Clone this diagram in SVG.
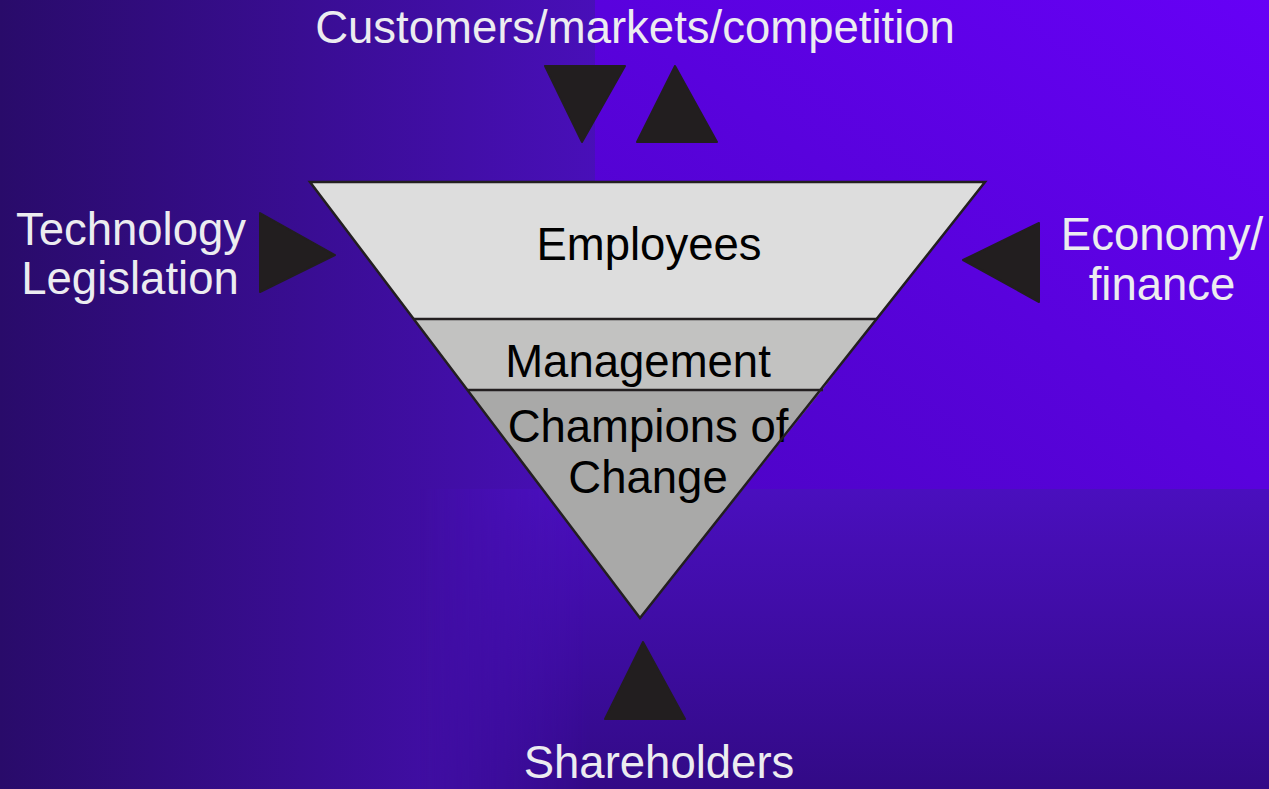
<svg xmlns="http://www.w3.org/2000/svg" width="1269" height="789" viewBox="0 0 1269 789">
<defs>
<linearGradient id="bgL" gradientUnits="userSpaceOnUse" x1="0" y1="0" x2="620" y2="0">
<stop offset="0" stop-color="#290b6a"/>
<stop offset="1" stop-color="#4a0fbc"/>
</linearGradient>
<linearGradient id="bgTR" x1="0" y1="1" x2="1" y2="0">
<stop offset="0" stop-color="#4c04c4"/>
<stop offset="1" stop-color="#6600f6"/>
</linearGradient>
<linearGradient id="bgBR" x1="0" y1="0" x2="0" y2="1">
<stop offset="0" stop-color="#4a0fbe"/>
<stop offset="1" stop-color="#320a86"/>
</linearGradient>
<linearGradient id="bgBRfade" x1="0" y1="0" x2="1" y2="0">
<stop offset="0" stop-color="#fff" stop-opacity="0"/>
<stop offset="0.2" stop-color="#fff" stop-opacity="1"/>
</linearGradient>
<mask id="fadeMask"><rect x="420" y="489" width="849" height="300" fill="url(#bgBRfade)"/></mask>
<style>
.lbl{font-family:"Liberation Sans",Arial,sans-serif;font-size:45.5px;fill:#ececf0;text-anchor:middle}
.in{font-family:"Liberation Sans",Arial,sans-serif;font-size:45.5px;fill:#000;text-anchor:middle}
.arr{fill:#221e1f;stroke:#221e1f;stroke-width:2;stroke-linejoin:round}
.edge{fill:none;stroke:#231f20;stroke-width:2.5;stroke-linejoin:miter}
</style>
</defs>
<g id="background">
<rect x="0" y="0" width="1269" height="789" fill="url(#bgL)"/>
<rect x="420" y="489" width="849" height="300" fill="url(#bgBR)" mask="url(#fadeMask)"/>
<rect x="595" y="0" width="674" height="489" fill="url(#bgTR)"/>
</g>
<g id="pyramid">
<polygon points="310,182 985,182 876,319 414,319" fill="#dddddd"/>
<polygon points="414,319 876,319 822,390 468,390" fill="#c2c2c1"/>
<polygon points="468,390 822,390 640,618" fill="#a9a9a8"/>
<g id="employees"><text class="in" x="649" y="260">Employees</text></g>
<g id="management"><text class="in" x="638" y="377">Management</text></g>
<g id="champions"><text class="in" x="648" y="442">Champions of</text><text class="in" x="648" y="493">Change</text></g>
<polygon class="edge" points="310,182 985,182 640,618"/>
<line class="edge" x1="414" y1="319" x2="877" y2="319"/>
<line class="edge" x1="468" y1="390" x2="823" y2="390"/>
</g>
<g id="connectors">
<polygon class="arr" points="545,66 625,66 582,142"/>
<polygon class="arr" points="675,66 637,142 717,142"/>
<polygon class="arr" points="260,213 260,292 335,255"/>
<polygon class="arr" points="1039,223 1039,302 963,260"/>
<polygon class="arr" points="643,642 605,719 685,719"/>
</g>
<g id="customers"><text class="lbl" x="635" y="43">Customers/markets/competition</text></g>
<g id="technology"><text class="lbl" x="131" y="245">Technology</text><text class="lbl" x="130" y="294">Legislation</text></g>
<g id="economy"><text class="lbl" x="1162" y="250">Economy/</text><text class="lbl" x="1162" y="300">finance</text></g>
<g id="shareholders"><text class="lbl" x="659" y="778">Shareholders</text></g>
</svg>
